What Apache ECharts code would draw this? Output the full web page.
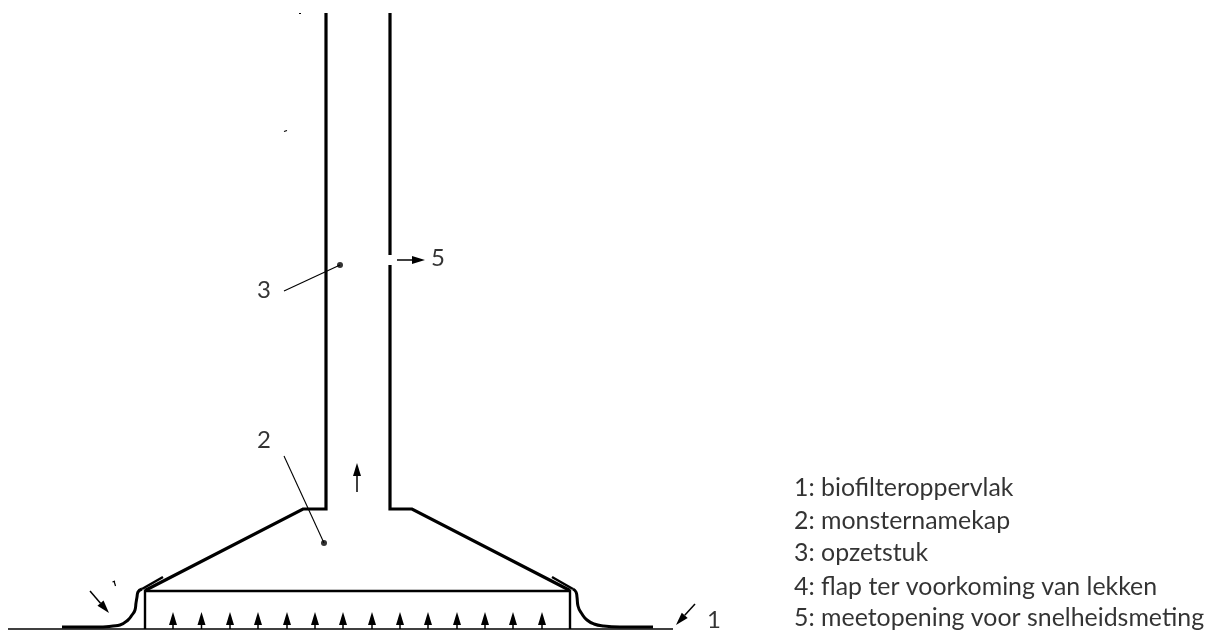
<!DOCTYPE html>
<html><head><meta charset="utf-8">
<style>html,body{margin:0;padding:0;background:#fff}#c{width:1217px;height:630px}</style>
<script src="https://cdn.jsdelivr.net/npm/echarts@6/dist/echarts.min.js"></script>
</head><body><div id="c"></div>
<script>
// Diagram geometry (x, y in picture units)
const leftWall = [[326,13],[326,509],[303,509],[145,590.5]];
const rightWallUpper = [[390,13],[390,255]];
const rightWallLower = [[390,265],[390,509],[412,509],[570,590.5]];
const boxOutline = [[145,629],[145,591],[570,591],[570,629]];
const ground = [[8,629],[673,629]];
const leftFlap = [[142,589],[163,577]];
const rightFlap = [[552,577],[573,589]];
const leftSkirt = [[62,627],[103,627],[113,626],[120,625],[128,620],[132,615],[135,610],[136,603],[137,597],[138,592],[142,589]];
const rightSkirt = [[573,589],[576,592],[577,597],[578,606],[582,614],[587,620],[594,624],[603,626],[620,627],[653,627]];
const leader3 = [[284,291],[340,265]];
const leader2 = [[284,456],[324,543]];
const specks = [[[299,13.5],[301,13.5]],[[284,131.5],[287,130.5]],[[114,581],[115.5,586]],[[112.5,582],[115,581]]];
const dots = [[340,265],[324,543]];
const upArrowX = [173,201.5,230,258,287,315,343,372,400,428,457,485,513,542];
const upArrowFoot = 629, upArrowTip = 612;
const otherArrows = [[357,492,357,463],[397,260,425,260],[90,591,109,613],[695,604,676,625]];
const noteLabels = ['1','2','3','5'];
const notePositions = [[707,620.5],[257,440],[257,290],[431,258]];
const legendLabels = ['1: biofilteroppervlak','2: monsternamekap','3: opzetstuk','4: flap ter voorkoming van lekken','5: meetopening voor snelheidsmeting'];
const legendX = 794;
const legendY = [488,521,553,587,618];

const INK = '#000';
const path = (data, width, smooth) => ({type:'line', data, showSymbol:false, symbol:'none', silent:true, smooth:smooth||false,
  lineStyle:{color:INK, width, cap:'butt', join:'miter'}});
const arrowData = upArrowX.map(x => [x, upArrowFoot, x, upArrowTip]).concat(otherArrows);
function renderArrow(params, api){
  const a = api.coord([api.value(0), api.value(1)]);
  const b = api.coord([api.value(2), api.value(3)]);
  const dx=b[0]-a[0], dy=b[1]-a[1], L=Math.hypot(dx,dy), ux=dx/L, uy=dy/L;
  const len=13, w=8;
  const bx=b[0]-ux*len, by=b[1]-uy*len;
  return {type:'group', children:[
    {type:'line', shape:{x1:a[0],y1:a[1],x2:bx,y2:by}, style:{stroke:INK, lineWidth:1.5}},
    {type:'polygon', shape:{points:[[b[0],b[1]],[bx-uy*w/2,by+ux*w/2],[bx+uy*w/2,by-ux*w/2]]}, style:{fill:INK}}
  ]};
}
const textSeries = (xy, labels, size) => ({type:'scatter', symbolSize:0, silent:true,
  data: xy.map((p,i)=>({value:p, name:labels[i]})),
  label:{show:true, position:'inside', formatter:p=>p.name, fontFamily:'Lato, Carlito, sans-serif', fontSize:size, color:'#000', align:'left', verticalAlign:'middle'}});

const chart = echarts.init(document.getElementById('c'), null, {renderer:'canvas'});
chart.setOption({
  animation:false, backgroundColor:'#fff',
  grid:{left:0,right:0,top:0,bottom:0},
  xAxis:{type:'value',min:0,max:1217,show:false},
  yAxis:{type:'value',min:0,max:630,inverse:true,show:false},
  series:[
    path(leftWall,3.2), path(rightWallUpper,3.2), path(rightWallLower,3.2),
    path(boxOutline,2.4), path(ground,1.5), path(leftFlap,2.4), path(rightFlap,2.4),
    path(leftSkirt,3,0.5), path(rightSkirt,3,0.5),
    path(leader3,1.1), path(leader2,1.1),
    ...specks.map(s=>path(s,1.2)),
    {type:'scatter', data:dots, symbol:'circle', symbolSize:6, silent:true, itemStyle:{color:INK}},
    {type:'custom', data:arrowData, renderItem:renderArrow, silent:true, encode:{x:[0,2],y:[1,3]}, clip:false},
    textSeries(notePositions, noteLabels, 24),
    textSeries(legendY.map(y=>[legendX,y]), legendLabels, 24.9)
  ]
});
</script></body></html>
